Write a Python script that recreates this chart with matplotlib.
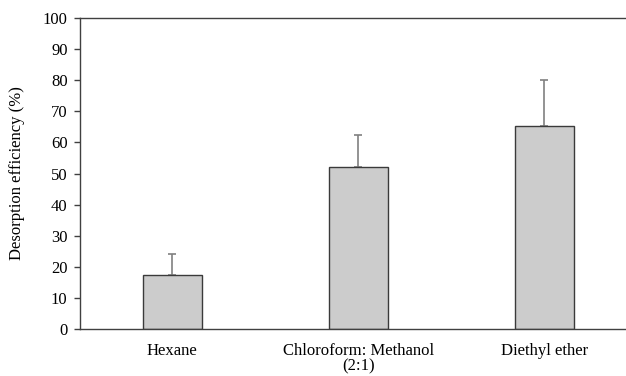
import matplotlib
matplotlib.use("Agg")
import matplotlib.pyplot as plt
import numpy as np

plt.rcParams['font.family'] = ['Liberation Serif', 'DejaVu Serif']

# 数据
solvents = ['Hexane', 'Chloroform: Methanol\n(2:1)', 'Diethyl ether']
efficiency = [17.4, 52.1, 65.2]
error_up = [6.8, 10.2, 15.0]

fig = plt.figure(figsize=(6.26, 3.76), dpi=100)
ax = fig.add_axes([80 / 626, 1 - 329 / 376, 546 / 626, 311 / 376])

x = np.arange(len(solvents))
ax.bar(x, efficiency, width=0.317, color='#cccccc', edgecolor='#3a3a3a',
       linewidth=1.0, zorder=2)
ax.errorbar(x, efficiency, yerr=[np.zeros(len(x)), error_up], fmt='none',
            ecolor='#808080', elinewidth=1.2, capsize=3, capthick=1.2, zorder=1)

ax.set_xlim(-0.495, -0.495 + 546 / 186)
ax.set_ylim(0, 100)
ax.set_yticks(np.arange(0, 101, 10))
ax.set_xticks(x)
ax.set_xticklabels(solvents, fontsize=12, linespacing=1.0)
ax.tick_params(axis='x', length=0, pad=10)
ax.tick_params(axis='y', length=4, width=1, color='#404040', labelsize=12, pad=5)

ax.set_ylabel('Desorption efficiency (%)', fontsize=12)
ax.yaxis.set_label_coords(-0.1, 0.5)

# 边框
ax.spines['right'].set_visible(False)
for s in ['left', 'bottom', 'top']:
    ax.spines[s].set_color('#404040')
    ax.spines[s].set_linewidth(1.0)

fig.savefig('out.png', dpi=100)
